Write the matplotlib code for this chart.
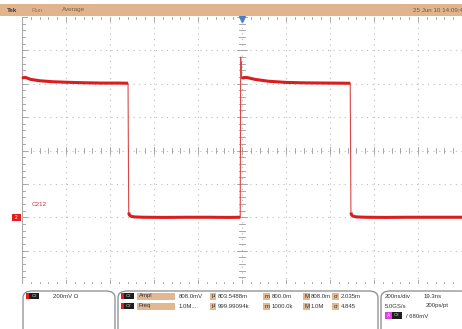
import matplotlib
matplotlib.use("Agg")
import matplotlib.pyplot as plt
import numpy as np
from matplotlib.patches import Rectangle, FancyBboxPatch

plt.rcParams['font.family'] = ['Liberation Sans', 'DejaVu Sans']

# waveform: time in ns, level in mV (200 mV/div, 200 ns/div)
high_a_t = [-1000, -985, -960, -920, -860, -800, -720, -640, -560, -518]
high_a_v = [835, 838, 826, 818, 812, 809, 806, 804, 804, 803]
low_a_t = [-515, -512, -505, -490, -450, -350, -250, -150, -60, -8]
low_a_v = [28, 14, 6, 2, 0, -1, 0, 0, -1, 0]
high_b_t = [-6, -5, -4, -2, 0, 5, 20, 60, 120, 200, 300, 400, 492]
high_b_v = [960, 880, 930, 840, 830, 836, 838, 826, 815, 808, 805, 804, 803]
low_b_t = [495, 498, 505, 520, 560, 650, 750, 850, 1000]
low_b_v = [28, 14, 6, 2, 0, -1, 0, 0, 0]

x_div = 200      # ns per division
y_div = 200      # mV per division
ground_mv = 0
trigger_mv = 680

W, H = 462, 329
fig = plt.figure(figsize=(W / 100, H / 100), dpi=100)
fig.patch.set_facecolor('white')

def fx(px):
    return px / W

def fy(py):
    return 1 - py / H

# graticule area
ax = fig.add_axes([fx(22), fy(284), fx(440), 267 / H])
ax.set_xlim(-5 * x_div, 5 * x_div)
ax.set_ylim(-2 * y_div, 6 * y_div)
ax.axis('off')

grid_c = '#bdbdbd'
tick_c = '#9a9a9a'
for gx in np.arange(-4, 5) * x_div:
    ax.axvline(gx, color=grid_c, lw=0.8, ls=(0, (1, 4)), zorder=1)
for gy in np.arange(-1, 6) * y_div + 0:
    ax.axhline(gy, color=grid_c, lw=0.8, ls=(0, (1, 4)), zorder=1)

# minor ticks on the centre cross and the edges
yc = 2 * y_div
minor_x = np.arange(-5 * x_div, 5 * x_div + 1, x_div / 5)
minor_y = np.arange(-2 * y_div, 6 * y_div + 1, y_div / 5)
tx, ty = 14, 14  # tick half lengths in data units
for mx in minor_x:
    big = abs(mx / x_div - round(mx / x_div)) < 1e-6
    h = ty * (1.6 if big else 1.0)
    ax.plot([mx, mx], [yc - h, yc + h], color=tick_c, lw=0.6, zorder=2)
    ax.plot([mx, mx], [6 * y_div, 6 * y_div - h], color=tick_c, lw=0.6, zorder=2)
    ax.plot([mx, mx], [-2 * y_div, -2 * y_div + h], color=tick_c, lw=0.6, zorder=2)
for my in minor_y:
    big = abs(my / y_div - round(my / y_div)) < 1e-6
    w = tx * (1.6 if big else 1.0)
    ax.plot([-w, w], [my, my], color=tick_c, lw=0.6, zorder=2)
    ax.plot([-5 * x_div, -5 * x_div + w], [my, my], color=tick_c, lw=0.6, zorder=2)
ax.axvline(-5 * x_div, color='#a8a8a8', lw=0.8, zorder=2)
ax.axhline(-2 * y_div, color='#c8c8c8', lw=0.6, zorder=2)

# trace: thin edges, thick noisy flat parts
all_t = high_a_t + low_a_t + high_b_t + low_b_t
all_v = high_a_v + low_a_v + high_b_v + low_b_v
ax.plot(all_t, all_v, color='#d84848', lw=0.8, zorder=3, clip_on=False)
for st, sv in [(high_a_t, high_a_v), (low_a_t, low_a_v), (high_b_t[4:], high_b_v[4:]), (low_b_t, low_b_v)]:
    ax.plot(st, sv, color='#d81e1e', lw=2.2, zorder=4, solid_capstyle='butt')

# trigger marker at top centre
ax.plot([0], [6 * y_div - 12], marker='v', color='#4a7ec8', ms=5, zorder=5, clip_on=False)

# top status bar
fig.patches.append(Rectangle((0, fy(16)), 1, 12 / H, transform=fig.transFigure,
                             facecolor='#e0b48c', edgecolor='none'))
fig.text(fx(7), fy(10), 'Tek', fontsize=4.5, fontweight='bold', color='#3a3a3a', va='center')
fig.text(fx(31), fy(10), 'Run', fontsize=4.5, color='#9a7a5e', va='center')
fig.text(fx(62), fy(10), 'Average', fontsize=4.5, color='#7a6048', va='center')
fig.text(fx(463), fy(10), '25 Jun 10 14:09:4', fontsize=4.5, color='#6e5a46', va='center', ha='right')

# channel ground marker and label
gy_px = 284 - (ground_mv + 2 * y_div) / (8 * y_div) * 267
fig.patches.append(Rectangle((fx(12), fy(gy_px + 3.5)), fx(9), 7 / H, transform=fig.transFigure,
                             facecolor='#e02020', edgecolor='none'))
fig.text(fx(16.5), fy(gy_px), '2', fontsize=3.5, color='white', ha='center', va='center')
fig.text(fx(32), fy(205), 'C212', fontsize=4.5, color='#d83030', va='center')

# bottom readout boxes
for x0, x1 in [(23, 115), (118, 378), (381, 470)]:
    fig.patches.append(FancyBboxPatch((fx(x0), fy(345)), fx(x1 - x0), 54 / H,
                                      boxstyle='round,pad=0,rounding_size=0.02',
                                      transform=fig.transFigure, facecolor='white',
                                      edgecolor='#8a8a8a', lw=0.9))

def chan_tag(px, py, label='C2', lead='#e02020'):
    fig.patches.append(Rectangle((fx(px), fy(py + 3)), fx(3), 6 / H, transform=fig.transFigure,
                                 facecolor=lead, edgecolor='none'))
    fig.patches.append(Rectangle((fx(px + 3), fy(py + 3)), fx(10), 6 / H, transform=fig.transFigure,
                                 facecolor='#1e1e1e', edgecolor='none'))
    fig.text(fx(px + 8), fy(py), label, fontsize=3.2, color='#dddddd', ha='center', va='center')

def tag(px, py, wdt, label):
    fig.patches.append(Rectangle((fx(px), fy(py + 3.5)), fx(wdt), 7 / H, transform=fig.transFigure,
                                 facecolor='#e2b892', edgecolor='none'))
    fig.text(fx(px + 1.5), fy(py), label, fontsize=4.3, color='#333333', va='center')

txt = dict(fontsize=4.3, color='#333333', va='center')
chan_tag(26, 296)
fig.text(fx(53), fy(296), '200mV \u03a9', **txt)

rows = [
    ('Ampl', '808.0mV', '803.5488m', '800.0m', '808.0m', '2.035m', 296),
    ('Freq', '1.0M...', '999.99094k', '1000.0k', '1.0M', '4.845', 306),
]
for name, val, mean, mn, mx_, sd, ry in rows:
    chan_tag(121, ry)
    tag(137, ry, 38, name)
    fig.text(fx(179), fy(ry), val, **txt)
    tag(210, ry, 6, '\u03bc')
    fig.text(fx(218), fy(ry), mean, **txt)
    tag(263, ry, 7, 'm')
    fig.text(fx(272), fy(ry), mn, **txt)
    tag(303, ry, 7, 'M')
    fig.text(fx(311), fy(ry), mx_, **txt)
    tag(332, ry, 7, '\u03c3')
    fig.text(fx(341), fy(ry), sd, **txt)

fig.text(fx(385), fy(296), '200ns/div', **txt)
fig.text(fx(424), fy(296), '19.3ns', **txt)
fig.text(fx(385), fy(306), '5.0GS/s', **txt)
fig.text(fx(426), fy(306), '200ps/pt', **txt)
fig.patches.append(Rectangle((fx(385), fy(319)), fx(7), 7 / H, transform=fig.transFigure,
                             facecolor='#e040e0', edgecolor='none'))
fig.text(fx(388.5), fy(315.5), 'A', fontsize=3.5, color='white', ha='center', va='center')
fig.patches.append(Rectangle((fx(392), fy(319)), fx(10), 7 / H, transform=fig.transFigure,
                             facecolor='#1e1e1e', edgecolor='none'))
fig.text(fx(397), fy(315.5), 'C2', fontsize=3.2, color='#dddddd', ha='center', va='center')
fig.text(fx(406), fy(316), '/ %dmV' % trigger_mv, **txt)

fig.savefig('out.png', dpi=100)
